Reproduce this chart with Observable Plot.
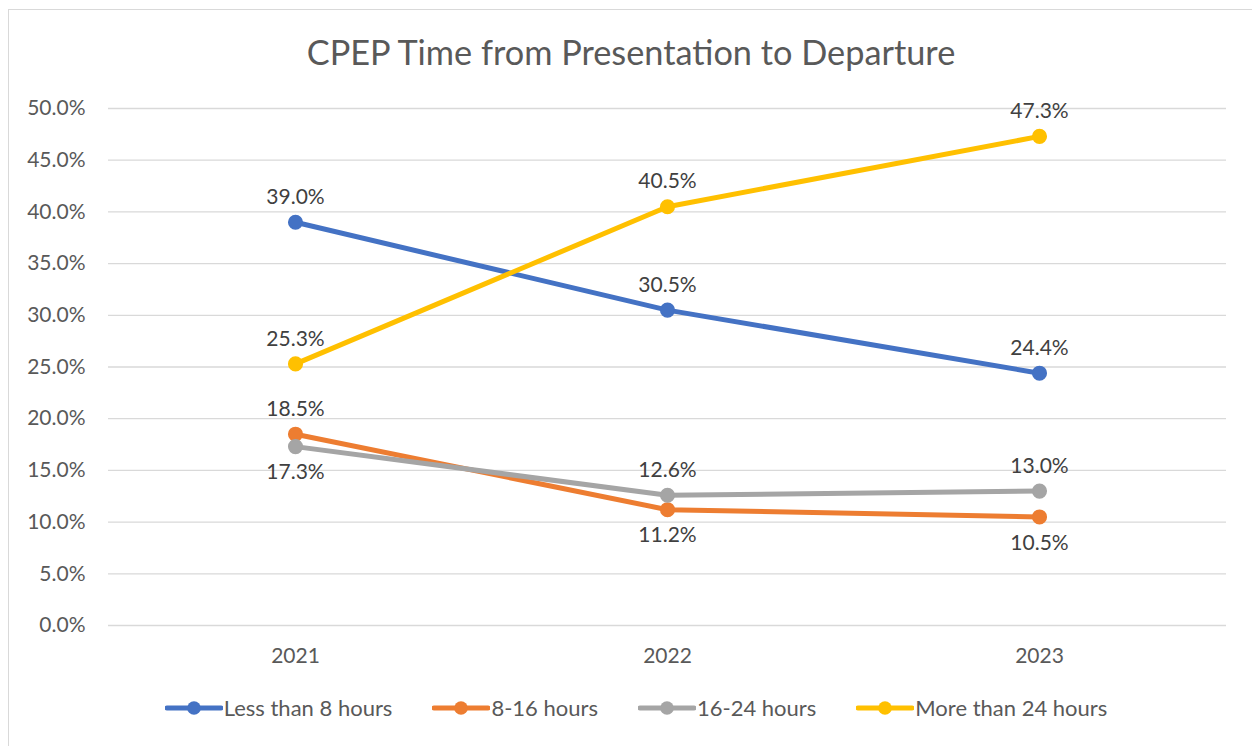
<!DOCTYPE html>
<html>
<head>
<meta charset="utf-8">
<script src="https://cdn.jsdelivr.net/npm/d3@7"></script>
<script src="https://cdn.jsdelivr.net/npm/@observablehq/plot@0.6"></script>
<style>
  html, body { margin: 0; padding: 0; background: #fff; }
  body { width: 1252px; height: 746px; position: relative; overflow: hidden; font-family: Lato, "Open Sans", sans-serif; }
  #frame { position: absolute; left: 8px; top: 9px; width: 1250px; height: 745px; border: 1px solid #d9d9d9; box-sizing: border-box; }
  #title { position: absolute; left: 10px; width: 1242px; top: 29px; text-align: center; font-size: 34.3px; color: #595959; line-height: 46px; }
  #chart { position: absolute; left: 0; top: 0; }
  #legend { position: absolute; left: 10px; width: 1252px; top: 694px; display: flex; justify-content: center; gap: 40px; font-size: 22px; color: #595959; }
  .item { display: flex; align-items: center; }
  .item svg { display: block; margin-right: 1px; }
</style>
</head>
<body>
<div id="frame"></div>
<div id="title">CPEP Time from Presentation to Departure</div>
<div id="chart"></div>
<div id="legend"></div>
<script>
const years = ["2021", "2022", "2023"];
const seriesNames = ["Less than 8 hours", "8-16 hours", "16-24 hours", "More than 24 hours"];
const seriesColors = ["#4472C4", "#ED7D31", "#A5A5A5", "#FFC000"];
const lessThan8 = [39.0, 30.5, 24.4];
const h8to16 = [18.5, 11.2, 10.5];
const h16to24 = [17.3, 12.6, 13.0];
const moreThan24 = [25.3, 40.5, 47.3];
const labelPlacement = [
  ["above", "above", "above"],
  ["above", "below", "below"],
  ["below", "above", "above"],
  ["above", "above", "above"]
];
const yTicks = [0, 5, 10, 15, 20, 25, 30, 35, 40, 45, 50];

const allValues = [lessThan8, h8to16, h16to24, moreThan24];
const data = [];
seriesNames.forEach((s, i) => {
  years.forEach((y, j) => {
    data.push({series: s, year: y, value: allValues[i][j], pos: labelPlacement[i][j]});
  });
});
const fmt = v => v.toFixed(1) + "%";

const plot = Plot.plot({
  width: 1252,
  height: 680,
  marginLeft: 108,
  marginRight: 26,
  marginTop: 108,
  marginBottom: 55,
  style: { fontFamily: "Lato, 'Open Sans', sans-serif", fontSize: "21px", color: "#595959", background: "transparent" },
  x: { type: "point", domain: years, padding: 0.5, label: null },
  y: { domain: [0, 50], label: null },
  color: { domain: seriesNames, range: seriesColors },
  marks: [
    Plot.ruleY(yTicks, { stroke: "#d9d9d9", strokeWidth: 1.3 }),
    Plot.axisX({ tickSize: 0, tickPadding: 23, label: null }),
    Plot.axisY(yTicks, { tickSize: 0, tickPadding: 23, tickFormat: d => d.toFixed(1) + "%", label: null }),
    Plot.line(data, { x: "year", y: "value", z: "series", stroke: "series", strokeWidth: 5, strokeLinecap: "round", strokeLinejoin: "round" }),
    Plot.dot(data, { x: "year", y: "value", fill: "series", stroke: "series", r: 6.8 }),
    Plot.text(data.filter(d => d.pos === "above"), { x: "year", y: "value", text: d => fmt(d.value), dy: -25, fill: "#404040", fontSize: 21 }),
    Plot.text(data.filter(d => d.pos === "below"), { x: "year", y: "value", text: d => fmt(d.value), dy: 26, fill: "#404040", fontSize: 21 })
  ]
});
document.getElementById("chart").appendChild(plot);

const legend = document.getElementById("legend");
seriesNames.forEach((s, i) => {
  const item = document.createElement("div");
  item.className = "item";
  item.innerHTML = `<svg width="58" height="24"><line x1="2" y1="12" x2="56" y2="12" stroke="${seriesColors[i]}" stroke-width="5" stroke-linecap="round"/><circle cx="29" cy="12" r="6.8" fill="${seriesColors[i]}"/></svg><span>${s}</span>`;
  legend.appendChild(item);
});
</script>
</body>
</html>
